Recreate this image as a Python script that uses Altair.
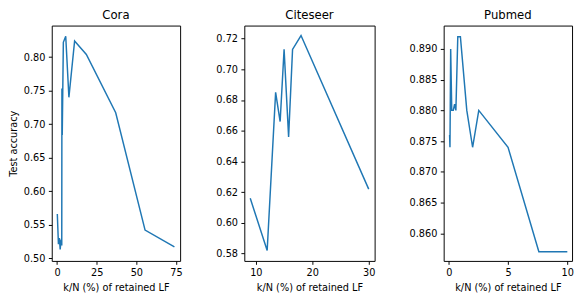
import altair as alt
import pandas as pd

# ---- data ----
cora_x = [0.2, 0.9, 1.5, 2.0, 2.6, 3.0, 3.1, 3.3, 4.0, 5.5, 7.5, 11.1, 18.5, 37.0, 55.5, 74.0]
cora_y = [0.566, 0.521, 0.530, 0.513, 0.528, 0.519, 0.753, 0.684, 0.822, 0.831, 0.740, 0.824, 0.804, 0.717, 0.542, 0.517]

cite_x = [9.0, 12.0, 13.5, 14.3, 15.0, 15.8, 16.5, 18.0, 30.0]
cite_y = [0.616, 0.582, 0.685, 0.666, 0.713, 0.656, 0.713, 0.722, 0.622]

pub_x = [0.07, 0.1, 0.16, 0.25, 0.38, 0.49, 0.6, 0.76, 0.98, 1.52, 2.01, 2.53, 5.0, 7.6, 10.0]
pub_y = [0.876, 0.874, 0.890, 0.880, 0.880, 0.881, 0.880, 0.892, 0.892, 0.880, 0.874, 0.880, 0.874, 0.857, 0.857]

titles = ["Cora", "Citeseer", "Pubmed"]
x_ticks = [[0, 25, 50, 75], [10, 20, 30], [0, 5, 10]]
y_ticks = [
    [0.50, 0.55, 0.60, 0.65, 0.70, 0.75, 0.80],
    [0.58, 0.60, 0.62, 0.64, 0.66, 0.68, 0.70, 0.72],
    [0.860, 0.865, 0.870, 0.875, 0.880, 0.885, 0.890],
]
y_formats = [".2f", ".2f", ".3f"]
x_domains = [[-3.3, 77.6], [7.95, 31.05], [-0.43, 10.4]]
y_domains = [[0.496, 0.847], [0.5752, 0.7285], [0.8555, 0.8938]]
widths = [132, 134, 132]

FONT = "DejaVu Sans"
XTITLE = "k/N (%) of retained LF"
TICK_FS = 10
TITLE_FS = 12


def panel(i, xs, ys, ytitle):
    df = pd.DataFrame({"x": xs, "y": ys, "order": list(range(len(xs)))})
    yaxis_kwargs = dict(values=y_ticks[i], format=y_formats[i], grid=False,
                        tickSize=3.5, labelFontSize=TICK_FS, labelPadding=3.5,
                        labelColor="black", tickColor="black", domain=False,
                        labelFont=FONT)
    if ytitle:
        yaxis_kwargs.update(title=ytitle, titleFontSize=TICK_FS, titleFont=FONT,
                            titleFontWeight="normal", titleColor="black", titlePadding=5)
    else:
        yaxis_kwargs.update(title=None)
    return (
        alt.Chart(df, title=alt.TitleParams(titles[i], fontSize=TITLE_FS, font=FONT,
                                            fontWeight="normal", color="black", offset=4))
        .mark_line(color="#1f77b4", strokeWidth=1.5)
        .encode(
            x=alt.X("x:Q",
                    scale=alt.Scale(domain=x_domains[i], nice=False, zero=False),
                    axis=alt.Axis(values=x_ticks[i], format="d", grid=False, title=XTITLE,
                                  tickSize=3.5, labelFontSize=TICK_FS, labelPadding=3.5,
                                  labelColor="black", tickColor="black", domain=False,
                                  labelFont=FONT, titleFont=FONT, titleFontSize=TICK_FS,
                                  titleFontWeight="normal", titleColor="black",
                                  titlePadding=5, labelFlush=False)),
            y=alt.Y("y:Q",
                    scale=alt.Scale(domain=y_domains[i], nice=False, zero=False),
                    axis=alt.Axis(**yaxis_kwargs)),
            order="order:O",
        )
        .properties(width=widths[i], height=242)
    )


c1 = panel(0, cora_x, cora_y, "Test accuracy")
c2 = panel(1, cite_x, cite_y, None)
c3 = panel(2, pub_x, pub_y, None)

chart = (
    alt.hconcat(alt.hconcat(c1, c2, spacing=33), c3, spacing=33)
    .configure_view(stroke="black", strokeWidth=1)
    .properties(padding={"left": 0, "top": -4, "right": 0, "bottom": 0}, background="white")
)

chart.save("out.html", embed_options={"renderer": "svg", "actions": False})
